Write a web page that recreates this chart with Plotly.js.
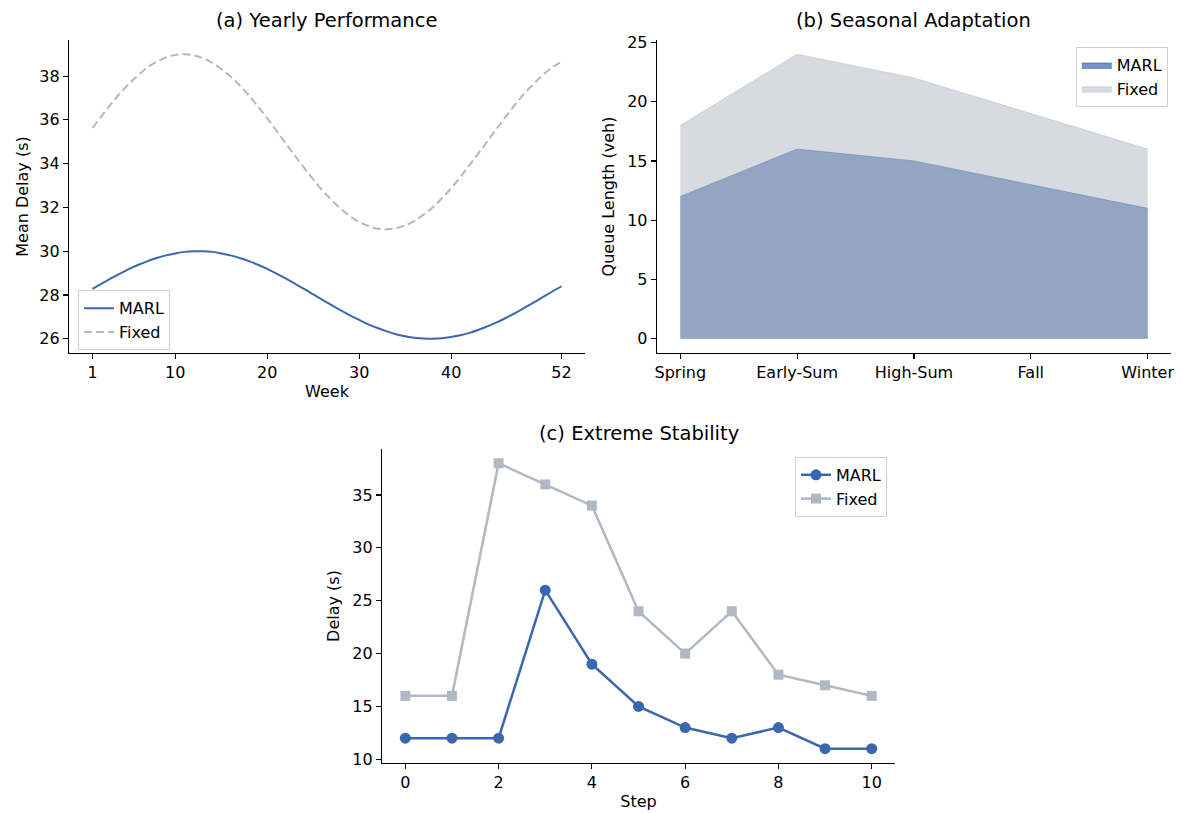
<!DOCTYPE html>
<html>
<head>
<meta charset="utf-8">
<script src="https://cdn.plot.ly/plotly-3.0.1.min.js"></script>
<style>html,body{margin:0;padding:0;background:#fff;}#chart{width:1182px;height:813px;}</style>
</head>
<body>
<div id="chart"></div>
<script>
// (a) Yearly Performance
const weeks = [1,2,3,4,5,6,7,8,9,10,11,12,13,14,15,16,17,18,19,20,21,22,23,24,25,26,27,28,29,30,31,32,33,34,35,36,37,38,39,40,41,42,43,44,45,46,47,48,49,50,51,52];
const yearlyMARL = [28.28,28.52,28.76,28.98,29.19,29.38,29.55,29.69,29.81,29.90,29.97,30.00,30.00,29.97,29.90,29.81,29.69,29.55,29.38,29.19,28.98,28.76,28.52,28.28,28.03,27.78,27.54,27.30,27.07,26.86,26.66,26.49,26.34,26.21,26.12,26.05,26.01,26.00,26.02,26.08,26.16,26.27,26.41,26.58,26.76,26.96,27.18,27.42,27.66,27.91,28.16,28.40];
const yearlyFixed = [35.63,36.18,36.72,37.22,37.66,38.06,38.40,38.66,38.85,38.97,39.00,38.95,38.82,38.61,38.33,37.99,37.58,37.12,36.61,36.07,35.51,34.94,34.37,33.82,33.28,32.78,32.34,31.94,31.60,31.34,31.15,31.03,31.00,31.05,31.18,31.39,31.67,32.01,32.42,32.88,33.39,33.93,34.49,35.06,35.63,36.18,36.72,37.22,37.66,38.06,38.40,38.66];
const weekTicks = [1,10,20,30,40,52];

// (b) Seasonal Adaptation
const seasons = ["Spring","Early-Sum","High-Sum","Fall","Winter"];
const seasonMARL = [12,16,15,13,11];
const seasonFixed = [18,24,22,19,16];

// (c) Extreme Stability
const steps = [0,1,2,3,4,5,6,7,8,9,10];
const stepMARL = [12,12,12,26,19,15,13,12,13,11,11];
const stepFixed = [16,16,38,36,34,24,20,24,18,17,16];

const BLUE = "#3a67ad";
const GRAY = "#b0b8c4";
const FONT = "DejaVu Sans, Liberation Sans, sans-serif";

const traces = [
  {x: weeks, y: yearlyMARL, type: "scatter", mode: "lines", name: "MARL",
   line: {color: BLUE, width: 2, shape: "spline", smoothing: 1}, xaxis: "x", yaxis: "y", legend: "legend"},
  {x: weeks, y: yearlyFixed, type: "scatter", mode: "lines", name: "Fixed",
   line: {color: GRAY, width: 2, dash: "8px,4px", shape: "spline", smoothing: 1}, xaxis: "x", yaxis: "y", legend: "legend"},
  {x: seasons, y: seasonMARL, type: "scatter", mode: "lines", name: "MARL", fill: "tozeroy",
   fillcolor: "rgba(58,103,173,0.7)", line: {color: "rgba(58,103,173,0.7)", width: 1},
   xaxis: "x2", yaxis: "y2", legend: "legend2"},
  {x: seasons, y: seasonFixed, type: "scatter", mode: "lines", name: "Fixed", fill: "tozeroy",
   fillcolor: "rgba(176,184,196,0.5)", line: {color: "rgba(176,184,196,0.5)", width: 1},
   xaxis: "x2", yaxis: "y2", legend: "legend2"},
  {x: steps, y: stepMARL, type: "scatter", mode: "lines+markers", name: "MARL",
   line: {color: BLUE, width: 2.5}, marker: {color: BLUE, size: 11, symbol: "circle"},
   xaxis: "x3", yaxis: "y3", legend: "legend3"},
  {x: steps, y: stepFixed, type: "scatter", mode: "lines+markers", name: "Fixed",
   line: {color: GRAY, width: 2.5}, marker: {color: GRAY, size: 10, symbol: "square"},
   xaxis: "x3", yaxis: "y3", legend: "legend3"}
];

const axisBase = {
  showline: true, linecolor: "#000", linewidth: 1.2, mirror: false,
  showgrid: false, zeroline: false,
  ticks: "outside", ticklen: 5, tickwidth: 1.2, tickcolor: "#000",
  tickfont: {family: FONT, size: 16, color: "#000"}
};
function ax(extra) { return Object.assign({}, axisBase, extra); }
const titleFont = {family: FONT, size: 16, color: "#000"};
const legBase = {
  bgcolor: "rgba(255,255,255,0.85)", bordercolor: "#d0d0d0", borderwidth: 1,
  font: {family: FONT, size: 16, color: "#000"}, tracegroupgap: 2, itemwidth: 30
};

const layout = {
  width: 1182, height: 813,
  margin: {l: 0, r: 0, t: 0, b: 0},
  paper_bgcolor: "#fff", plot_bgcolor: "#fff",
  font: {family: FONT, color: "#000"},
  showlegend: true,
  xaxis: ax({domain: [0.0584, 0.4949], anchor: "y", range: [-1.55, 54.55],
    tickvals: weekTicks, title: {text: "Week", font: titleFont, standoff: 4}}),
  yaxis: ax({domain: [0.5658, 0.9508], anchor: "x", range: [25.35, 39.65],
    tickvals: [26,28,30,32,34,36,38], title: {text: "Mean Delay (s)", font: titleFont, standoff: 6}}),
  xaxis2: ax({domain: [0.5558, 0.9907], anchor: "y2", type: "category", range: [-0.2, 4.2],
    categoryorder: "array", categoryarray: seasons}),
  yaxis2: ax({domain: [0.5658, 0.9508], anchor: "x2", range: [-1.2, 25.2],
    tickvals: [0,5,10,15,20,25], title: {text: "Queue Length (veh)", font: titleFont, standoff: 8}}),
  xaxis3: ax({domain: [0.3232, 0.7572], anchor: "y3", range: [-0.5, 10.5],
    tickvals: [0,2,4,6,8,10], title: {text: "Step", font: titleFont, standoff: 4}}),
  yaxis3: ax({domain: [0.0615, 0.4477], anchor: "x3", range: [9.65, 39.35],
    tickvals: [10,15,20,25,30,35], title: {text: "Delay (s)", font: titleFont, standoff: 8}}),
  legend: Object.assign({}, legBase, {x: 0.066, y: 0.643, xanchor: "left", yanchor: "top"}),
  legend2: Object.assign({}, legBase, {x: 0.988, y: 0.942, xanchor: "right", yanchor: "top"}),
  legend3: Object.assign({}, legBase, {x: 0.7504, y: 0.438, xanchor: "right", yanchor: "top"}),
  annotations: [
    {text: "(a) Yearly Performance", x: 0.2766, y: 1 - 21/813, xref: "paper", yref: "paper",
     showarrow: false, xanchor: "center", yanchor: "middle", font: {family: FONT, size: 19.5, color: "#000"}},
    {text: "(b) Seasonal Adaptation", x: 0.7732, y: 1 - 21/813, xref: "paper", yref: "paper",
     showarrow: false, xanchor: "center", yanchor: "middle", font: {family: FONT, size: 19.5, color: "#000"}},
    {text: "(c) Extreme Stability", x: 0.5402, y: 1 - 433/813, xref: "paper", yref: "paper",
     showarrow: false, xanchor: "center", yanchor: "middle", font: {family: FONT, size: 19.5, color: "#000"}}
  ]
};

Plotly.newPlot("chart", traces, layout, {displayModeBar: false, staticPlot: true});
</script>
</body>
</html>
